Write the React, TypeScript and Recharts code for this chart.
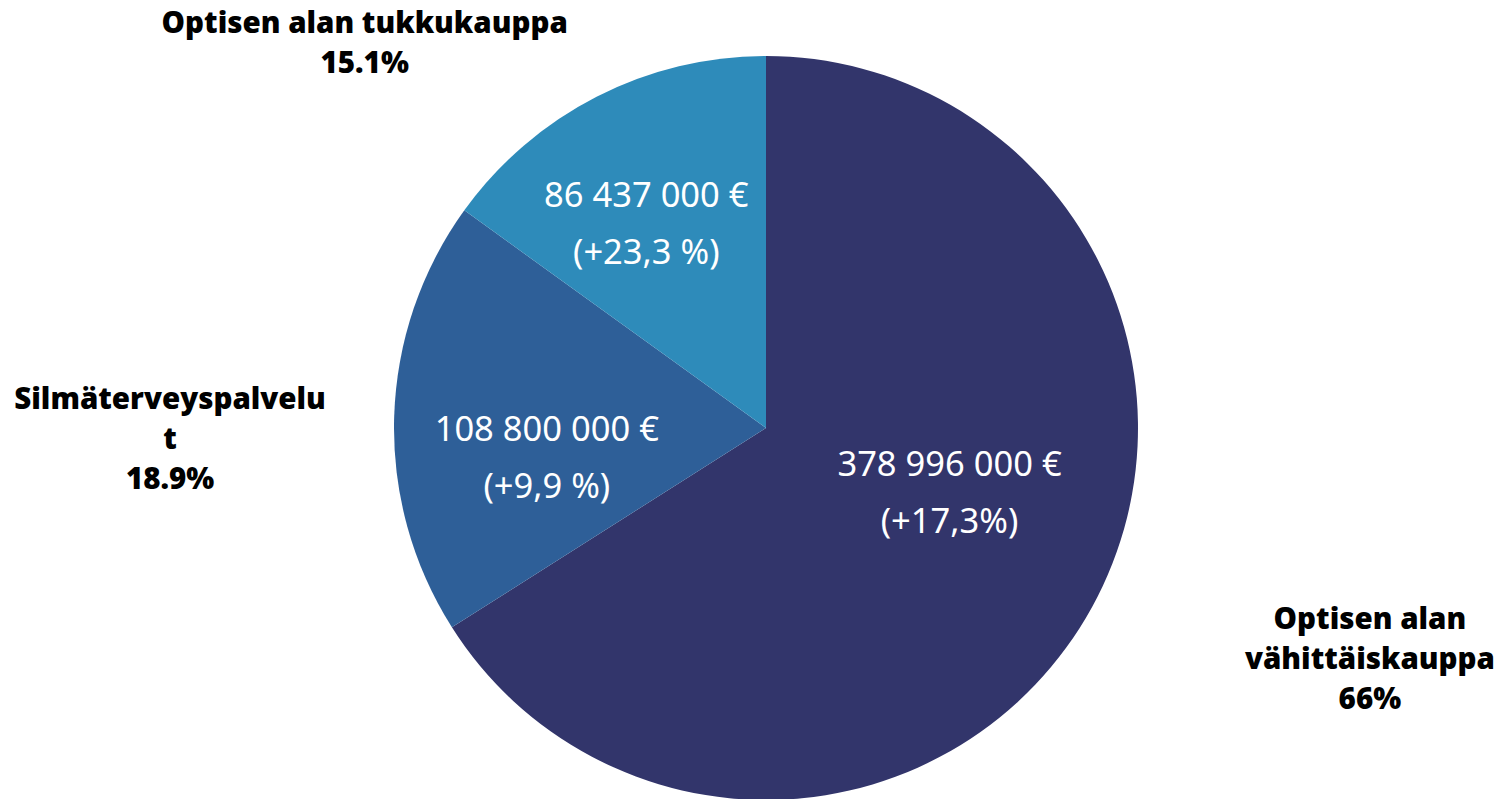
import { PieChart, Pie, Cell } from "recharts";

const segments = ["Optisen alan vähittäiskauppa", "Silmäterveyspalvelut", "Optisen alan tukkukauppa"];
const values = [378996000, 108800000, 86437000];
const valueLabels = ["378 996 000 €", "108 800 000 €", "86 437 000 €"];
const changeLabels = ["(+17,3%)", "(+9,9 %)", "(+23,3 %)"];
const nameLines = [
  ["Optisen alan", "vähittäiskauppa"],
  ["Silmäterveyspalvelu", "t"],
  ["Optisen alan tukkukauppa"],
];
const shareLabels = ["66%", "18.9%", "15.1%"];

const colors = ["#32356b", "#2e5f98", "#2e8bba"];

// radius + angle nudge (deg) for each label block, relative to the slice mid angle
const innerPos = [
  { r: 194, da: 9.9 },
  { r: 221, da: 9 },
  { r: 238, da: 3.1 },
];
const outerPos = [
  { r: 646, da: 8 },
  { r: 596, da: 2.6 },
  { r: 557, da: 19 },
];

const data = segments.map((name, i) => ({ name, value: values[i] }));

const RAD = Math.PI / 180;

function renderLabel(props: any) {
  const { cx, cy, midAngle, index } = props;
  const ip = innerPos[index];
  const op = outerPos[index];
  const ia = (midAngle + ip.da) * RAD;
  const oa = (midAngle + op.da) * RAD;
  const ix = cx + ip.r * Math.cos(ia);
  const iy = cy - ip.r * Math.sin(ia);
  const ox = cx + op.r * Math.cos(oa);
  const oy = cy - op.r * Math.sin(oa);
  const outer = [...nameLines[index], shareLabels[index]];
  const lh = 40;
  const top = oy - ((outer.length - 1) * lh) / 2;
  return (
    <g>
      <text
        x={ix}
        y={iy - 28.5}
        textAnchor="middle"
        dominantBaseline="central"
        fill="#fff"
        style={{ fontFamily: "'Noto Sans', sans-serif", fontSize: 34.5 }}
      >
        {valueLabels[index]}
      </text>
      <text
        x={ix}
        y={iy + 28.5}
        textAnchor="middle"
        dominantBaseline="central"
        fill="#fff"
        style={{ fontFamily: "'Noto Sans', sans-serif", fontSize: 34.5 }}
      >
        {changeLabels[index]}
      </text>
      {outer.map((line, k) => (
        <text
          key={k}
          x={ox}
          y={top + k * lh}
          textAnchor="middle"
          dominantBaseline="central"
          fill="#000"
          style={{ fontFamily: "'Open Sans', sans-serif", fontSize: 29.5, fontWeight: 800 }}
        >
          {line}
        </text>
      ))}
    </g>
  );
}

export default function App() {
  return (
    <div style={{ width: 1510, height: 799, background: "#fff" }}>
      <style>{"body{margin:0}"}</style>
      <PieChart width={1510} height={799} margin={{ top: 0, right: 0, bottom: 0, left: 0 }}>
        <Pie
          data={data}
          dataKey="value"
          nameKey="name"
          cx={766}
          cy={428}
          outerRadius={372}
          startAngle={90}
          endAngle={-270}
          stroke="none"
          label={renderLabel}
          labelLine={false}
          isAnimationActive={false}
        >
          {data.map((d, i) => (
            <Cell key={d.name} fill={colors[i]} />
          ))}
        </Pie>
      </PieChart>
    </div>
  );
}
